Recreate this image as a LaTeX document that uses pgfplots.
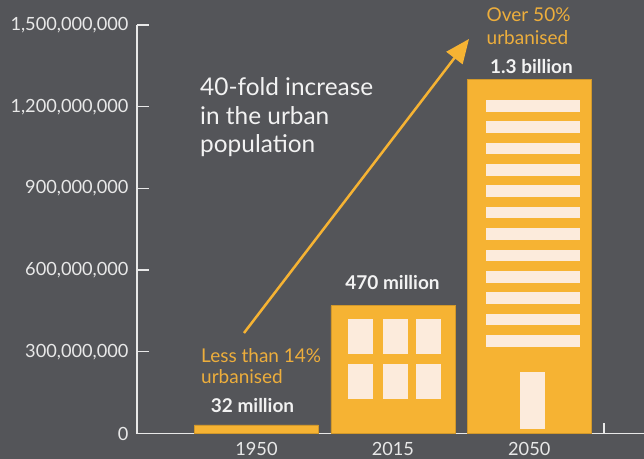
\documentclass[border=0pt]{standalone}
\usepackage{fontspec}
\setmainfont{Lato}
\usepackage{pgfplots}
\pgfplotsset{compat=1.18}
\usetikzlibrary{arrows.meta}
\definecolor{bg}{HTML}{545559}
\definecolor{barc}{HTML}{F6B333}
\definecolor{win}{HTML}{FCEBDC}
\definecolor{txt}{HTML}{F2F2F2}
\definecolor{otxt}{HTML}{EDAE3C}
\definecolor{axcol}{HTML}{E8E8E8}
\newcommand{\tickfnt}{\fontsize{18.2bp}{21bp}\selectfont}
\newcommand{\smallfnt}{\fontsize{19bp}{22bp}\selectfont}
\newcommand{\bigfnt}{\fontsize{24.4bp}{28bp}\selectfont}
\begin{document}
\begin{tikzpicture}
\fill[bg] (0,0) rectangle (644bp,459bp);
\begin{axis}[
    at={(137bp,25.5bp)}, anchor=south west,
    scale only axis, width=507bp, height=408.5bp,
    xmin=-0.876, xmax=2.841, ymin=0, ymax=1.5e9,
    axis x line=bottom, axis y line=left,
    axis line style={axcol, line width=1.4bp, -},
    ybar, bar width=124bp,
    xtick={0,1,2}, xticklabels={\mbox{1950},\mbox{2015},\mbox{2050}},
    xtick style={draw=none},
    ytick={0,300000000,600000000,900000000,1200000000,1500000000},
    ytick style={axcol, line width=1.2bp},
    tick align=inside, major tick length=12bp,
    scaled y ticks=false,
    /pgf/number format/assume math mode=true,
    /pgf/number format/fixed,
    /pgf/number format/1000 sep={,},
    ticklabel style={font=\tickfnt, text=axcol},
    yticklabel style={xshift=-5bp},
    xticklabel style={yshift=-5bp},
    clip=false,
    ]
\addplot[fill=barc, draw=barc!85!black, line width=0.5bp]
    coordinates {(0,32000000) (1,470000000) (2,1300000000)};
\end{axis}
\begin{scope}[shift={(0,459bp)}, x=1bp, y=-1bp]
  % windows on the 2015 building
  \foreach \xa in {348,383,416}{
    \foreach \ya in {319,364}{
      \fill[win] (\xa,\ya) rectangle ({\xa+25},{\ya+35});
    }
  }
  % floors and door on the 2050 building
  \foreach \k in {0,...,11}{
    \fill[win] (486,{100+21.36*\k}) rectangle (580,{111.7+21.36*\k});
  }
  \fill[win] (520,372) rectangle (545,429);
  \draw[axcol, line width=1.2bp] (604,433.5) -- (604,423);
  % arrow
  \draw[barc, line width=2.5bp, -{Triangle[length=24bp, width=20bp]}] (244,333) -- (469,39);
  % texts
  \node[anchor=base west, inner sep=0, text=txt, font=\bigfnt] at (200,96) {40-fold increase};
  \node[anchor=base west, inner sep=0, text=txt, font=\bigfnt] at (200,124.5) {in the urban};
  \node[anchor=base west, inner sep=0, text=txt, font=\bigfnt] at (200,153) {population};
  \node[anchor=base west, inner sep=0, text=otxt, font=\smallfnt] at (201,362.7) {Less than 14\%};
  \node[anchor=base west, inner sep=0, text=otxt, font=\smallfnt] at (201,383.3) {urbanised};
  \node[anchor=base west, inner sep=0, text=otxt, font=\smallfnt] at (486.5,21.7) {Over 50\%};
  \node[anchor=base west, inner sep=0, text=otxt, font=\smallfnt] at (486.5,44.3) {urbanised};
  \node[anchor=base, inner sep=0, text=txt, font=\smallfnt\bfseries] at (252.5,413) {32 million};
  \node[anchor=base, inner sep=0, text=txt, font=\smallfnt\bfseries] at (392.5,290) {470 million};
  \node[anchor=base, inner sep=0, text=txt, font=\smallfnt\bfseries] at (531.5,73.3) {1.3 billion};
\end{scope}
\pgfresetboundingbox
\useasboundingbox (0,0) rectangle (644bp,459bp);
\end{tikzpicture}
\end{document}
